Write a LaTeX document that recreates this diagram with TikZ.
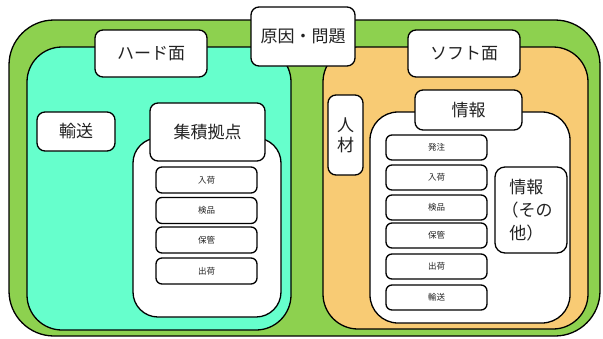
\documentclass[tikz,border=0pt]{standalone}
\usepackage{fontspec}
\setmainfont{Noto Sans CJK JP}
\definecolor{outergreen}{HTML}{8DD14F}
\definecolor{hardcyan}{HTML}{66FFCC}
\definecolor{softorange}{HTML}{F8CB74}
\definecolor{txt}{HTML}{222222}
\begin{document}
\begin{tikzpicture}[x=1pt,y=-1pt,
  frame/.style={draw=black, line width=1.3pt, inner sep=0pt, text=txt},
  area/.style={frame, rounded corners=#1},
  lbl/.style={frame, fill=white, rounded corners=8pt, font=\fontsize{17}{20}\selectfont},
  item/.style={frame, fill=white, rounded corners=6pt, font=\fontsize{8.5}{10}\selectfont, minimum width=101pt},
]
\useasboundingbox (0,0) rectangle (603,338);
% outer areas
\node[area=45pt, fill=outergreen, minimum width=591pt, minimum height=316pt] (outer) at (304.5,178) {};
\node[area=35pt, fill=hardcyan, minimum width=264pt, minimum height=283pt] (hard) at (159,188.5) {};
\node[area=35pt, fill=softorange, minimum width=265pt, minimum height=282pt] (soft) at (455.5,188) {};
% hard side
\node[lbl, minimum width=112pt, minimum height=47pt] (hardlbl) at (151,53.5) {ハード面};
\node[lbl, minimum width=78pt, minimum height=39pt] (yuso) at (76,131.5) {輸送};
\node[area=25pt, fill=white, minimum width=148pt, minimum height=179pt] (hub) at (207,227.5) {};
\node[lbl, minimum width=115pt, minimum height=58pt] (hublbl) at (207.5,132) {集積拠点};
\node[item, minimum height=26pt] (h1) at (206.5,180) {入荷};
\node[item, minimum height=26pt] (h2) at (206.5,210.5) {検品};
\node[item, minimum height=26pt] (h3) at (206.5,240) {保管};
\node[item, minimum height=26pt] (h4) at (206.5,271) {出荷};
% soft side
\node[lbl, minimum width=112pt, minimum height=47pt] (softlbl) at (464,53.5) {ソフト面};
\node[lbl, minimum width=35pt, minimum height=80pt, align=center, font=\fontsize{17}{20}\selectfont] (jinzai) at (345.5,135) {人\\材};
\node[area=28pt, fill=white, minimum width=200pt, minimum height=211pt] (info) at (470,217.5) {};
\node[lbl, minimum width=107pt, minimum height=40pt] (infolbl) at (468.5,110) {情報};
\node[item, minimum height=25pt] (s1) at (436.5,147.5) {発注};
\node[item, minimum height=25pt] (s2) at (436.5,177.5) {入荷};
\node[item, minimum height=25pt] (s3) at (436.5,207.5) {検品};
\node[item, minimum height=25pt] (s4) at (436.5,235.5) {保管};
\node[item, minimum height=25pt] (s5) at (436.5,266.5) {出荷};
\node[item, minimum height=25pt] (s6) at (436.5,297.5) {輸送};
\node[lbl, rounded corners=10pt, minimum width=72pt, minimum height=86pt, align=left, font=\fontsize{17}{23}\selectfont] (other) at (531,210) {情報\\\kern-0.45em（その\\他）};
% title
\node[lbl, minimum width=104pt, minimum height=59pt] (title) at (303,36.5) {原因・問題};
\end{tikzpicture}
\end{document}
